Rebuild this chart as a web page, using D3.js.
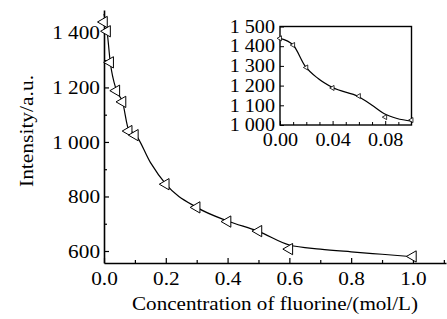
<!DOCTYPE html>
<html>
<head>
<style>
  body, html { margin: 0; padding: 0; background: #fff; }
  svg { display: block; font-family: "Liberation Serif", "Times New Roman", serif; }
  svg text { font-family: "Liberation Serif", "Times New Roman", serif; }
  .axis path, .axis line { stroke: #000; }
</style>
</head>
<body>
<svg id="chart" width="447" height="319"></svg>
<script src="https://d3js.org/d3.v7.min.js"></script>
<script>
  // measured points (main plot + inset share the low range)
  const concentration = [0, 0.01, 0.02, 0.04, 0.06, 0.08, 0.1, 0.2, 0.3, 0.4, 0.5, 0.6, 1.0]
  const intensity = [1440, 1406, 1292, 1188, 1147, 1040, 1025, 845, 760, 708, 673, 607, 580]

  // fitted curve
  const fitX = [0, 0.01, 0.02, 0.04, 0.06, 0.08, 0.1, 0.15, 0.2, 0.3, 0.4, 0.5, 0.6, 0.7, 0.8, 0.9, 1.0]
  const fitY = [1470, 1406, 1295, 1190, 1147, 1045, 1030, 925, 845, 760, 710, 672, 622, 607, 597, 588, 579]

  // fitted curve
  const insetFitX = [0, 0.01, 0.019, 0.029, 0.04, 0.06, 0.07, 0.079, 0.089, 0.1]
  const insetFitY = [1440, 1406, 1300, 1236, 1190, 1143, 1100, 1058, 1033, 1020]

  const xTicks = [0, 0.2, 0.4, 0.6, 0.8, 1.0]
  const xMinor = [0.1, 0.3, 0.5, 0.7, 0.9, 1.1]
  const yTicks = [600, 800, 1000, 1200, 1400]
  const yMinor = [700, 900, 1100, 1300]
  const insetXTicks = [0, 0.04, 0.08]
  const insetXMinor = [0.01, 0.02, 0.03, 0.05, 0.06, 0.07, 0.09]
  const insetYTicks = [1000, 1100, 1200, 1300, 1400, 1500]

  const svg = d3.select('#chart')
  const sx = 1.12  // the reference font is a bit wider than Liberation Serif
  const serif = '"Liberation Serif", "Times New Roman", serif'

  const num = d3.formatLocale({ decimal: '.', thousands: ' ', grouping: [3], currency: ['', ''] }).format(',')

  function widen(sel, size) {
    sel.attr('font-family', serif).attr('font-size', size)
    sel.selectAll('text')
      .attr('font-family', serif)
      .attr('font-size', size)
      .attr('fill', '#000')
      .attr('transform', `scale(${sx},1)`)
      .attr('x', function() { return (+this.getAttribute('x') || 0) / sx })
  }

  // ---- main plot ----
  const x = d3.scaleLinear().domain([0, 1.107]).range([104, 446])
  const y = d3.scaleLinear().domain([556, 1484]).range([263, 10])

  const gx = svg.append('g').attr('class', 'axis')
    .attr('transform', 'translate(0,263)')
    .call(d3.axisBottom(x).tickValues(xTicks).tickFormat(d3.format('.1f'))
      .tickSizeInner(-5).tickSizeOuter(0).tickPadding(9))
  gx.select('.domain').attr('stroke-width', 1.6)
  gx.selectAll('.tick line').attr('stroke-width', 1.2)
  widen(gx, 19)

  svg.append('g').attr('class', 'axis')
    .attr('transform', 'translate(0,263)')
    .call(d3.axisBottom(x).tickValues(xMinor).tickFormat('').tickSizeInner(-3).tickSizeOuter(0))
    .call(g => g.select('.domain').remove())
    .selectAll('.tick line').attr('stroke-width', 1.2)

  const gy = svg.append('g').attr('class', 'axis')
    .attr('transform', 'translate(104,0)')
    .call(d3.axisLeft(y).tickValues(yTicks).tickFormat(num)
      .tickSizeInner(-5).tickSizeOuter(0).tickPadding(4))
  gy.select('.domain').attr('stroke-width', 1.6)
  gy.selectAll('.tick line').attr('stroke-width', 1.2)
  widen(gy, 19)

  svg.append('g').attr('class', 'axis')
    .attr('transform', 'translate(104,0)')
    .call(d3.axisLeft(y).tickValues(yMinor).tickFormat('').tickSizeInner(-3).tickSizeOuter(0))
    .call(g => g.select('.domain').remove())
    .selectAll('.tick line').attr('stroke-width', 1.2)

  const fitPts = fitX.map((v, i) => [v, fitY[i]])
  svg.append('path')
    .datum(fitPts)
    .attr('fill', 'none')
    .attr('stroke', '#000')
    .attr('stroke-width', 1.2)
    .attr('d', d3.line().x(d => x(d[0])).y(d => Math.max(10, y(d[1]))).curve(d3.curveMonotoneX))

  const pts = concentration.map((v, i) => [v, intensity[i]])
  svg.append('g')
    .selectAll('path')
    .data(pts)
    .join('path')
    .attr('d', d3.symbol(d3.symbolTriangle, 55))
    .attr('transform', d => `translate(${x(d[0])},${y(d[1])}) rotate(-90)`)
    .attr('fill', '#fff')
    .attr('stroke', '#000')
    .attr('stroke-width', 1)

  svg.append('text')
    .attr('transform', 'translate(33,131) rotate(-90)')
    .attr('text-anchor', 'middle')
    .attr('textLength', 112)
    .attr('lengthAdjust', 'spacingAndGlyphs')
    .attr('font-size', 19)
    .text('Intensity/a.u.')

  svg.append('text')
    .attr('x', 275)
    .attr('y', 310)
    .attr('text-anchor', 'middle')
    .attr('textLength', 286)
    .attr('lengthAdjust', 'spacingAndGlyphs')
    .attr('font-size', 19)
    .text('Concentration of fluorine/(mol/L)')

  // ---- inset ----
  const ix = d3.scaleLinear().domain([0, 0.1]).range([280, 411.5])
  const iy = d3.scaleLinear().domain([1000, 1500]).range([125, 26.5])

  svg.append('rect')
    .attr('x', 280).attr('y', 26.5)
    .attr('width', 131.5).attr('height', 98.5)
    .attr('fill', 'none')
    .attr('stroke', '#000')
    .attr('stroke-width', 1.4)

  const igx = svg.append('g').attr('class', 'axis')
    .attr('transform', 'translate(0,125)')
    .call(d3.axisBottom(ix).tickValues(insetXTicks).tickFormat(d3.format('.2f'))
      .tickSizeInner(-4).tickSizeOuter(0).tickPadding(8))
  igx.select('.domain').remove()
  widen(igx, 18)

  svg.append('g').attr('class', 'axis')
    .attr('transform', 'translate(0,125)')
    .call(d3.axisBottom(ix).tickValues(insetXMinor).tickFormat('').tickSizeInner(-3).tickSizeOuter(0))
    .call(g => g.select('.domain').remove())

  const igy = svg.append('g').attr('class', 'axis')
    .attr('transform', 'translate(280,0)')
    .call(d3.axisLeft(iy).tickValues(insetYTicks).tickFormat(num)
      .tickSizeInner(-4).tickSizeOuter(0).tickPadding(5))
  igy.select('.domain').remove()
  widen(igy, 18)

  const insetPts = insetFitX.map((v, i) => [v, insetFitY[i]])
  svg.append('path')
    .datum(insetPts)
    .attr('fill', 'none')
    .attr('stroke', '#000')
    .attr('stroke-width', 1.2)
    .attr('d', d3.line().x(d => ix(d[0])).y(d => iy(d[1])).curve(d3.curveMonotoneX))

  svg.append('g')
    .selectAll('path')
    .data(pts.filter(d => d[0] <= 0.1))
    .join('path')
    .attr('d', d3.symbol(d3.symbolTriangle, 11))
    .attr('transform', d => `translate(${ix(d[0])},${iy(d[1])}) rotate(-90)`)
    .attr('fill', '#fff')
    .attr('stroke', '#000')
    .attr('stroke-width', 0.8)
</script>
</body>
</html>
